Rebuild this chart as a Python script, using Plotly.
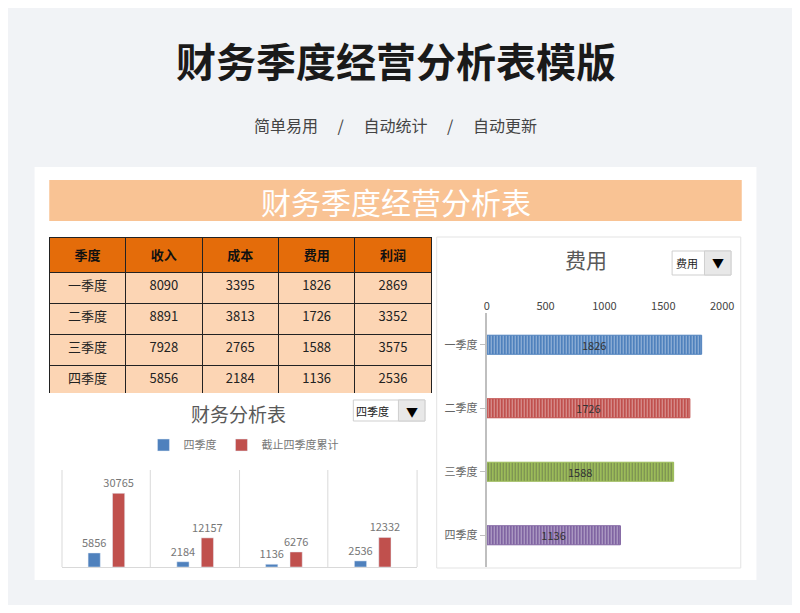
import plotly.graph_objects as go

quarters = ["一季度", "二季度", "三季度", "四季度"]
metrics = ["收入", "成本", "费用", "利润"]
income = [8090, 8891, 7928, 5856]
cost = [3395, 3813, 2765, 2184]
expense = [1826, 1726, 1588, 1136]
profit = [2869, 3352, 3575, 2536]
expense_colors = ["#4f81bd", "#c0504d", "#9bbb59", "#8064a2"]

# the page body has an 8px margin, so the figure is a bit smaller and coordinates shift
OFF = 8
W, H = 800 - 2 * OFF, 613 - 2 * OFF
CJK = "Noto Sans CJK SC"


def px(x):
    return (x - OFF) / W


def py(y):
    return 1 - (y - OFF) / H


fig = go.Figure()

# data table
fig.add_trace(go.Table(
    domain=dict(x=[px(47), px(437)], y=[py(393), py(237)]),
    header=dict(values=["<b>季度</b>"] + [f"<b>{m}</b>" for m in metrics],
                fill_color="#e46c0a", line_color="#222", height=31,
                font=dict(family=CJK, size=13, color="#111"), align="center"),
    cells=dict(values=[quarters, income, cost, expense, profit],
               fill_color="#fcd5b4", line_color="#222", height=31,
               font=dict(family=CJK, size=13, color="#222"), align="center"),
))

# left: Q4 vs cumulative
cumulative = [sum(income), sum(cost), sum(expense), sum(profit)]
q4 = [income[3], cost[3], expense[3], profit[3]]
for name, vals, col in [("四季度", q4, "#4f81bd"), ("截止四季度累计", cumulative, "#c0504d")]:
    fig.add_trace(go.Bar(x=metrics, y=vals, name=name, marker_color=col,
                         text=vals, textposition="outside", constraintext="none", cliponaxis=False,
                         xaxis="x", yaxis="y", textfont=dict(size=11, color="#777")))

# right: expense by quarter
fig.add_trace(go.Bar(y=quarters, x=expense, orientation="h", xaxis="x2", yaxis="y2",
                     marker=dict(color=expense_colors, line=dict(color=expense_colors, width=1),
                                 pattern=dict(shape="|", fgcolor="rgba(255,255,255,0.3)", size=3, solidity=0.3)),
                     text=expense, textposition="inside", insidetextanchor="middle", constraintext="none",
                     textfont=dict(size=11, color="#333"), showlegend=False, width=0.3))

shapes = [
    dict(type="rect", xref="paper", yref="paper", x0=px(32), x1=px(768), y0=py(580), y1=py(167),
         fillcolor="white", line=dict(width=0), layer="below"),
    dict(type="rect", xref="paper", yref="paper", x0=px(47), x1=px(753), y0=py(221), y1=py(180),
         fillcolor="#f9c394", line=dict(width=0), layer="below"),
    dict(type="rect", xref="paper", yref="paper", x0=px(442), x1=px(752), y0=py(568), y1=py(237),
         fillcolor="white", line=dict(color="#e3e3e3", width=1), layer="below"),
]
for x in [60, 150, 241, 331, 422]:
    shapes.append(dict(type="line", xref="paper", yref="paper", x0=px(x), x1=px(x),
                       y0=py(567), y1=py(470), line=dict(color="#d9d9d9", width=1), layer="below"))
# dropdown boxes
for x0, x1, y0, y1 in [(357, 430, 400, 421), (682, 742, 251, 275)]:
    shapes.append(dict(type="rect", xref="paper", yref="paper", x0=px(x0), x1=px(x1), y0=py(y1), y1=py(y0),
                       fillcolor="white", line=dict(color="#cfcfcf", width=1)))
    shapes.append(dict(type="rect", xref="paper", yref="paper", x0=px(x1 - 27), x1=px(x1), y0=py(y1), y1=py(y0),
                       fillcolor="#e8e8e8", line=dict(color="#cfcfcf", width=1)))

annotations = [
    dict(text="<b>财务季度经营分析表模版</b>", x=px(400), y=py(60), font=dict(family=CJK, size=40, color="#1a1a1a")),
    dict(text="简单易用　 /　 自动统计　 /　 自动更新", x=px(400), y=py(125), font=dict(family=CJK, size=16, color="#444")),
    dict(text="财务季度经营分析表", x=px(400), y=py(201), font=dict(family=CJK, size=30, color="white")),
    dict(text="财务分析表", x=px(240), y=py(413), font=dict(family=CJK, size=19, color="#595959")),
    dict(text="费用", x=px(594), y=py(259), font=dict(family=CJK, size=21, color="#595959")),
    dict(text="四季度", x=px(377), y=py(411), font=dict(family=CJK, size=11, color="#222")),
    dict(text="▼", x=px(417), y=py(411), font=dict(size=12, color="#000")),
    dict(text="费用", x=px(697), y=py(263), font=dict(family=CJK, size=11, color="#222")),
    dict(text="▼", x=px(729), y=py(263), font=dict(size=12, color="#000")),
]
for a in annotations:
    a.update(xref="paper", yref="paper", showarrow=False, xanchor="center", yanchor="middle")

fig.update_layout(
    width=W, height=H, margin=dict(l=0, r=0, t=0, b=0),
    paper_bgcolor="#f1f3f6", plot_bgcolor="rgba(0,0,0,0)",
    shapes=shapes, annotations=annotations, barmode="group", bargap=0.45, bargroupgap=0.5,
    legend=dict(orientation="h", x=px(245), xanchor="center", y=py(445), yanchor="middle",
                font=dict(family=CJK, size=11, color="#777"), bgcolor="rgba(0,0,0,0)",
                itemwidth=30, tracegroupgap=0),
    xaxis=dict(domain=[px(60), px(422)], showticklabels=False, showgrid=False, zeroline=False,
               showline=True, linecolor="#d9d9d9"),
    yaxis=dict(domain=[py(567), py(470)], range=[0, 40500], visible=False),
    xaxis2=dict(domain=[px(493), px(733)], range=[0, 2000], side="top", anchor="y2", dtick=500,
                showgrid=False, zeroline=False, tickfont=dict(size=11, color="#444")),
    yaxis2=dict(domain=[py(567), py(313)], anchor="x2", autorange="reversed",
                showline=True, linecolor="#bfbfbf", linewidth=2, ticks="outside", tickcolor="#bfbfbf",
                tickfont=dict(family=CJK, size=11, color="#666"), showgrid=False),
    font=dict(family=CJK),
)

fig.write_html("out.html")
